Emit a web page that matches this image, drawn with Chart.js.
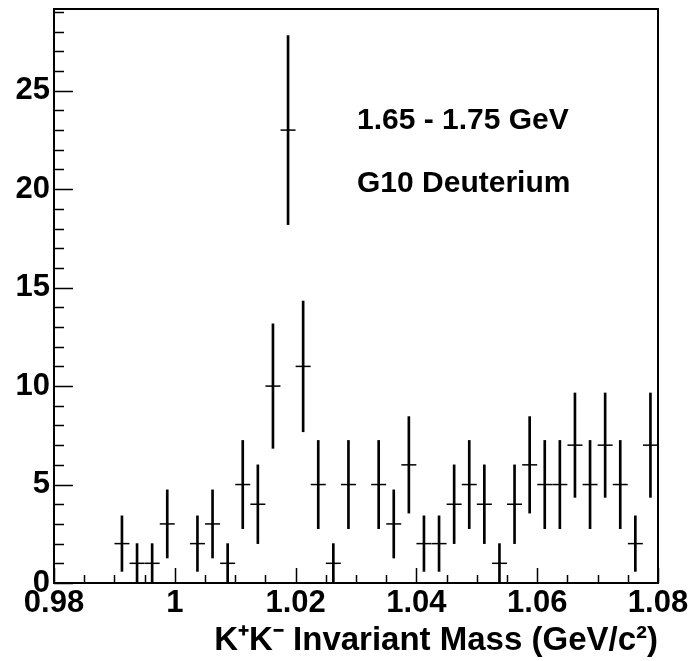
<!DOCTYPE html>
<html>
<head>
<meta charset="utf-8">
<script src="https://cdn.jsdelivr.net/npm/chart.js@4.4.1/dist/chart.umd.min.js"></script>
<style>
  body { margin: 0; background: #fff; }
  canvas { display: block; }
</style>
</head>
<body>
<canvas id="massChart" width="691" height="661"></canvas>
<script>
// K+K- invariant mass histogram, 0.0025 GeV bins
const binCenters = [
    0.98125, 0.98375, 0.98625, 0.98875, 0.99125, 0.99375, 0.99625, 0.99875,
    1.00125, 1.00375, 1.00625, 1.00875, 1.01125, 1.01375, 1.01625, 1.01875,
    1.02125, 1.02375, 1.02625, 1.02875, 1.03125, 1.03375, 1.03625, 1.03875,
    1.04125, 1.04375, 1.04625, 1.04875, 1.05125, 1.05375, 1.05625, 1.05875,
    1.06125, 1.06375, 1.06625, 1.06875, 1.07125, 1.07375, 1.07625, 1.07875
];
const counts = [
    0, 0, 0, 0, 2, 1, 1, 3,
    0, 2, 3, 1, 5, 4, 10, 23,
    11, 5, 1, 5, 0, 5, 3, 6,
    2, 2, 4, 5, 4, 1, 4, 6,
    5, 5, 7, 5, 7, 5, 2, 7
];
// statistical errors (sqrt N) as drawn
const errors = [
    0, 0, 0, 0, 1.41, 1, 1, 1.73,
    0, 1.41, 1.73, 1, 2.24, 2, 3.16, 4.80,
    3.32, 2.24, 1, 2.24, 0, 2.24, 1.73, 2.45,
    1.41, 1.41, 2, 2.24, 2, 1, 2, 2.45,
    2.24, 2.24, 2.65, 2.24, 2.65, 2.24, 1.41, 2.65
];
const xTickValues = [0.98, 1.0, 1.02, 1.04, 1.06, 1.08];
const xTickLabels = ['0.98', '1', '1.02', '1.04', '1.06', '1.08'];
const yTickValues = [0, 5, 10, 15, 20, 25];
const yTickLabels = ['0', '5', '10', '15', '20', '25'];
const annotationLines = ['1.65 - 1.75 GeV', 'G10 Deuterium'];

const errorBars = [];
const centralValues = [];
binCenters.forEach((x, i) => {
    if (counts[i] > 0) {
        errorBars.push({ x: x, y: [counts[i] - errors[i], counts[i] + errors[i]] });
        centralValues.push({ x: x, y: counts[i] });
    }
});

// inward ticks, full frame and the text box
const histoFrame = {
    id: 'histoFrame',
    afterDraw(chart) {
        const { ctx, chartArea: a, scales: { x, y } } = chart;
        ctx.save();
        ctx.strokeStyle = '#000';
        ctx.lineWidth = 2;
        ctx.strokeRect(a.left, a.top, a.right - a.left, a.bottom - a.top);

        ctx.lineWidth = 1.5;
        ctx.beginPath();
        for (let k = 0; k <= 20; k++) {
            const v = 0.98 + k * 0.005;
            const px = Math.round(x.getPixelForValue(v)) + 0.5;
            const len = k % 4 === 0 ? 15 : 8;
            ctx.moveTo(px, a.bottom);
            ctx.lineTo(px, a.bottom - len);
        }
        for (let v = 0; v <= 29; v++) {
            const py = Math.round(y.getPixelForValue(v)) + 0.5;
            const len = v % 5 === 0 ? 19 : 10;
            ctx.moveTo(a.left, py);
            ctx.lineTo(a.left + len, py);
        }
        ctx.stroke();

        ctx.fillStyle = '#000';
        ctx.font = 'bold 30px "Liberation Sans", Arial, sans-serif';
        ctx.textBaseline = 'alphabetic';
        ctx.fillText(annotationLines[0], 357, 129);
        ctx.fillText(annotationLines[1], 357, 192);
        ctx.restore();
    }
};

const tickFont = { family: '"Liberation Sans", Arial, sans-serif', size: 31, weight: 'bold' };

new Chart(document.getElementById('massChart'), {
    type: 'bar',
    data: {
        datasets: [{
            type: 'bar',
            data: errorBars,
            backgroundColor: '#000',
            borderWidth: 0,
            barThickness: 2,
            grouped: false
        }, {
            type: 'scatter',
            data: centralValues,
            showLine: false,
            pointStyle: 'line',
            pointRadius: 7.5,
            pointHoverRadius: 7.5,
            borderColor: '#000',
            borderWidth: 1.5
        }]
    },
    options: {
        responsive: false,
        animation: false,
        devicePixelRatio: 1,
        layout: { padding: { top: 8, right: 33, left: 0, bottom: 0 } },
        plugins: {
            legend: { display: false },
            tooltip: { enabled: false }
        },
        scales: {
            x: {
                type: 'linear',
                offset: false,
                min: 0.98,
                max: 1.08,
                grid: { display: false, drawTicks: false },
                border: { display: true, color: '#000', width: 2 },
                afterBuildTicks: (scale) => {
                    scale.ticks = xTickValues.map((v) => ({ value: v }));
                },
                afterFit: (scale) => {
                    scale.height = 78;
                    scale.paddingLeft = 0;
                    scale.paddingRight = 0;
                },
                ticks: {
                    color: '#000',
                    font: tickFont,
                    padding: 2,
                    maxRotation: 0,
                    autoSkip: false,
                    callback: (val, i) => xTickLabels[i]
                },
                title: {
                    display: true,
                    align: 'end',
                    text: 'K\u207AK\u207B Invariant Mass (GeV/c\u00B2)',
                    color: '#000',
                    font: { family: '"Liberation Sans", Arial, sans-serif', size: 33, weight: 'bold' },
                    padding: { top: 0, bottom: 0 }
                }
            },
            y: {
                type: 'linear',
                min: 0,
                max: 29.15,
                grid: { display: false, drawTicks: false },
                border: { display: true, color: '#000', width: 2 },
                afterBuildTicks: (scale) => {
                    scale.ticks = yTickValues.map((v) => ({ value: v }));
                },
                afterFit: (scale) => {
                    scale.width = 54;
                    scale.paddingTop = 0;
                    scale.paddingBottom = 0;
                },
                ticks: {
                    color: '#000',
                    font: tickFont,
                    padding: 4,
                    callback: (val, i) => yTickLabels[i]
                }
            }
        }
    },
    plugins: [histoFrame]
});
</script>
</body>
</html>
